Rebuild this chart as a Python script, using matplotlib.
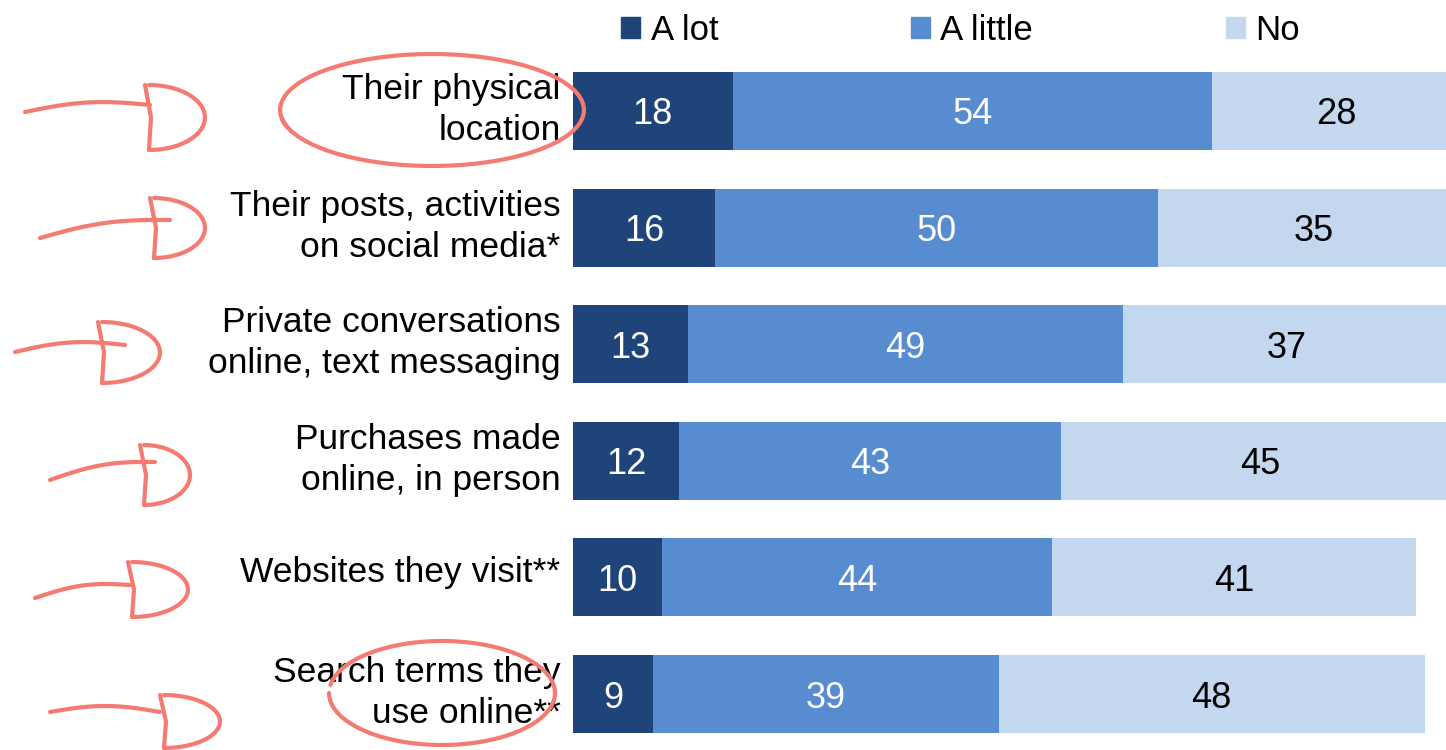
## Stacked horizontal bars: how much people think others can learn about them

import matplotlib.pyplot as plt
import matplotlib.transforms as mtransforms
import numpy as np
from matplotlib.patches import Patch

categories = ["Their physical\nlocation",
              "Their posts, activities\non social media*",
              "Private conversations\nonline, text messaging",
              "Purchases made\nonline, in person",
              "Websites they visit**",
              "Search terms they\nuse online**"]
a_lot = [18, 16, 13, 12, 10, 9]
a_little = [54, 50, 49, 43, 44, 39]
no = [28, 35, 37, 45, 41, 48]
series_names = ["A lot", "A little", "No"]

colors = ["#1f4479", "#578cd0", "#c3d7ef"]
text_colors = ["white", "white", "black"]

W, H = 1446, 750
plt.rcParams['font.family'] = ['Liberation Sans', 'DejaVu Sans']

fig = plt.figure(figsize=(W / 100, H / 100), dpi=100)
# axes run past the right edge, like the cropped original
ax = fig.add_axes([573 / W, 1 - 752.3 / H, 887 / W, 699.6 / H])

y = np.arange(len(categories))
left = np.zeros(len(categories))
for vals, col, tcol in zip([a_lot, a_little, no], colors, text_colors):
    vals = np.array(vals)
    ax.barh(y, vals, left=left, height=0.67, color=col, edgecolor="none")
    for yi, l, v in zip(y, left, vals):
        ax.text(l + v / 2, yi, str(v), ha="center", va="center_baseline",
                color=tcol, fontsize=26)
    left = left + vals

ax.set_xlim(0, 100)
ax.set_ylim(len(categories) - 0.5, -0.5)
ax.set_yticks(y)
ax.set_yticklabels(categories, fontsize=25.5, linespacing=1.3)
ax.tick_params(axis="y", length=0, pad=9)
ax.set_xticks([])
for s in ax.spines.values():
    s.set_visible(False)
# labels sit a little above the bar centre in the original
shift = mtransforms.ScaledTranslation(0, 6 / 72, fig.dpi_scale_trans)
for lab in ax.get_yticklabels():
    lab.set_transform(lab.get_transform() + shift)

handles = [Patch(color=c) for c in colors]
fig.legend(handles, series_names, loc="center left",
           bbox_to_anchor=(621 / W, 1 - 30 / H), ncol=3, frameon=False,
           fontsize=25, handlelength=0.55, handleheight=0.55,
           handletextpad=0.3, columnspacing=5.55, borderpad=0,
           borderaxespad=0)


# red hand-drawn markup
def px(xs, ys):
    return [v / W for v in xs], [1 - v / H for v in ys]

def red_line(xs, ys):
    fx, fy = px(xs, ys)
    fig.add_artist(plt.Line2D(fx, fy, color="#f47a72", lw=3,
                              solid_capstyle="round"))

arrows = [(25, 112, 150, 105, 145, 85, 205, 150),
          (40, 238, 170, 220, 150, 198, 205, 258),
          (15, 352, 125, 345, 98, 322, 160, 383),
          (50, 480, 155, 462, 140, 445, 190, 505),
          (35, 598, 130, 585, 128, 562, 188, 617),
          (50, 712, 160, 712, 160, 695, 220, 748)]
for x0, y0, x1, y1, hx, hy0, hx1, hy1 in arrows:
    t = np.linspace(0, 1, 20)
    red_line(x0 + (x1 - x0) * t, y0 + (y1 - y0) * t - 6 * np.sin(np.pi * t))
    red_line([hx, hx + 6, hx + 4], [hy0, (hy0 + hy1) / 2, hy1])
    th = np.linspace(-np.pi / 2, np.pi / 2, 30)
    red_line(hx + 4 + (hx1 - hx - 4) * np.cos(th),
             (hy0 + hy1) / 2 + (hy1 - hy0) / 2 * np.sin(th))

th = np.linspace(0.9 * np.pi, 2.95 * np.pi, 80)
red_line(432 + 152 * np.cos(th), 110 + 56 * np.sin(th))
th = np.linspace(1.05 * np.pi, 3.0 * np.pi, 80)
red_line(442 + 113 * np.cos(th), 693 + 52 * np.sin(th))

fig.savefig("out.png", dpi=100)
